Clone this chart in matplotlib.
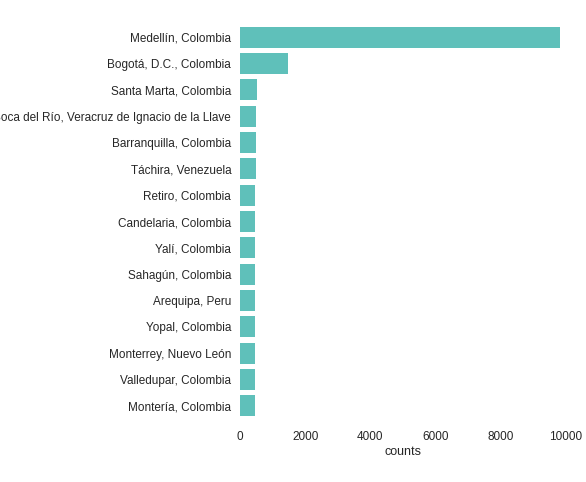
import matplotlib
matplotlib.use("Agg")
import matplotlib.pyplot as plt
import seaborn as sns

cities = ["Medellín, Colombia", "Bogotá, D.C., Colombia", "Santa Marta, Colombia",
          "Boca del Río, Veracruz de Ignacio de la Llave", "Barranquilla, Colombia",
          "Táchira, Venezuela", "Retiro, Colombia", "Candelaria, Colombia",
          "Yalí, Colombia", "Sahagún, Colombia", "Arequipa, Peru", "Yopal, Colombia",
          "Monterrey, Nuevo León", "Valledupar, Colombia", "Montería, Colombia"]
counts = [9840, 1460, 500, 495, 490, 470, 468, 466, 465, 464, 463, 462, 461, 460, 459]

sns.set_style("white")
plt.rcParams['font.family'] = ['Liberation Sans', 'DejaVu Sans']
fig = plt.figure(figsize=(5.86, 4.82), dpi=100)
ax = fig.add_axes([0.41, 0.125, 0.555, 0.825])
sns.barplot(x=counts, y=cities, color="#4fd0c8", ax=ax, orient="h", linewidth=0)
ax.set_ylim(len(cities) - 0.5 + 0.1, -0.5)
ax.set_xlim(0, 10000)
ax.set_xticks([0, 2000, 4000, 6000, 8000, 10000])
ax.set_xlabel("counts", fontsize=9, labelpad=2)
ax.set_ylabel("")
ax.tick_params(labelsize=8.5, pad=3)
sns.despine(left=True, bottom=True)
fig.savefig("out.png", dpi=100)
